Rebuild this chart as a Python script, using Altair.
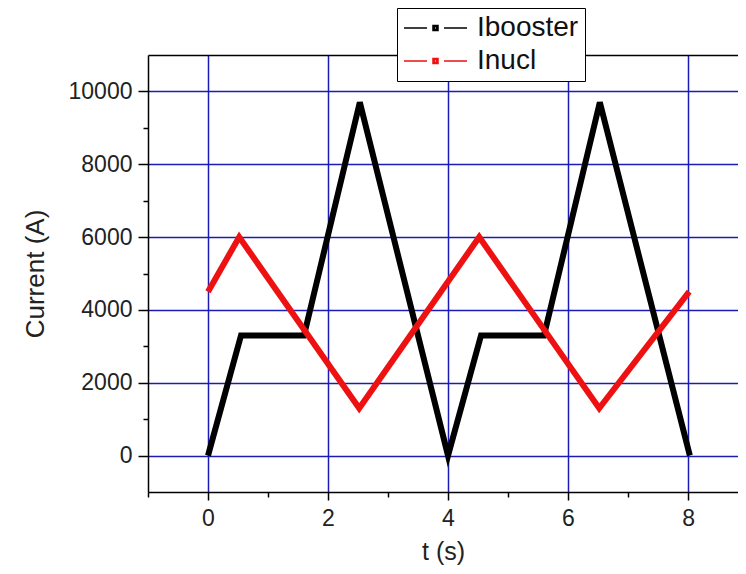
import altair as alt
import pandas as pd

# Ibooster series
t_booster = [0.0, 0.55, 1.6, 2.53, 4.0, 4.55, 5.6, 6.53, 8.03]
i_booster = [0, 3300, 3300, 9700, 0, 3300, 3300, 9700, 0]

# Inucl series
t_nucl = [0.0, 0.52, 2.52, 4.52, 6.52, 8.02]
i_nucl = [4500, 6000, 1300, 6000, 1300, 4500]

series_names = ["Ibooster", "Inucl"]
series_colors = ["#000000", "#ee1111"]

x_ticks = [-1, 0, 1, 2, 3, 4, 5, 6, 7, 8]
y_ticks = [0, 1000, 2000, 3000, 4000, 5000, 6000, 7000, 8000, 9000, 10000]

rows = []
for k, (t, v) in enumerate(zip(t_booster, i_booster)):
    rows.append({"t": t, "I": v, "series": "Ibooster", "order": k})
for k, (t, v) in enumerate(zip(t_nucl, i_nucl)):
    rows.append({"t": t, "I": v, "series": "Inucl", "order": k})
df = pd.DataFrame(rows)

FONT = "Liberation Sans"
GRID = "#1c1cb4"

legend_symbol = (
    "M-1,0H-0.27M0.27,0H1"
    "M-0.08,-0.08H0.08V0.08H-0.08Z"
    "M-0.04,-0.04H0.04V0.04H-0.04Z"
)

x_scale = alt.Scale(domain=[-1, 8.833], nice=False, zero=False)
y_scale = alt.Scale(domain=[-1000, 11000], nice=False, zero=False)

lines = alt.Chart(df).mark_line(strokeWidth=6, strokeJoin="miter", strokeCap="butt").encode(
    x=alt.X(
        "t:Q",
        scale=x_scale,
        axis=alt.Axis(
            orient="bottom",
            title="t (s)",
            values=x_ticks,
            labelExpr="datum.value % 2 === 0 ? datum.label : ''",
            tickSize=alt.condition("datum.value % 2 === 0", alt.value(8), alt.value(5)),
            gridOpacity=alt.condition("datum.value % 2 === 0", alt.value(1), alt.value(0)),
            grid=True,
            gridColor=GRID,
            gridWidth=1.5,
            labelFontSize=23,
            titleFontSize=25,
            labelPadding=7,
            titlePadding=9,
            labelFlush=False,
        ),
    ),
    y=alt.Y(
        "I:Q",
        scale=y_scale,
        axis=alt.Axis(
            title="Current (A)",
            values=y_ticks,
            labelExpr="datum.value % 2000 === 0 ? datum.label : ''",
            format="d",
            tickSize=alt.condition("datum.value % 2000 === 0", alt.value(10), alt.value(5)),
            gridOpacity=alt.condition("datum.value % 2000 === 0", alt.value(1), alt.value(0)),
            grid=True,
            gridColor=GRID,
            gridWidth=1.5,
            labelFontSize=23,
            titleFontSize=26,
            labelPadding=6,
            titlePadding=20,
            labelFlush=False,
        ),
    ),
    color=alt.Color(
        "series:N",
        scale=alt.Scale(domain=series_names, range=series_colors),
        legend=alt.Legend(
            title=None,
            orient="none",
            legendX=249,
            legendY=-47,
            symbolType=legend_symbol,
            symbolSize=3969,
            symbolStrokeWidth=1.5,
            clipHeight=28,
            rowPadding=5,
            padding=6,
            labelFontSize=28,
            labelOffset=9,
            labelColor="#111111",
            fillColor="white",
            strokeColor="black",
        ),
    ),
    order="order:Q",
)

top_frame = alt.Chart(df).mark_line(opacity=0).encode(
    x=alt.X(
        "t:Q",
        scale=x_scale,
        axis=alt.Axis(orient="top", labels=False, ticks=False, grid=False, title=None, domain=True),
    ),
    y=alt.Y("I:Q", scale=y_scale),
)

chart = alt.layer(lines, top_frame).properties(
    width=590,
    height=437,
    autosize=alt.AutoSizeParams(type="none"),
    padding={"left": 140, "top": 47, "right": 0, "bottom": 74},
).configure(
    font=FONT,
).configure_view(
    stroke=None,
).configure_axis(
    domainColor="black",
    domainWidth=1.5,
    tickColor="black",
    tickWidth=1.5,
    labelColor="#222222",
    titleColor="#222222",
    labelFont=FONT,
    titleFont=FONT,
    titleFontWeight="normal",
)

chart.save("out.html", embed_options={"renderer": "svg", "actions": False})
